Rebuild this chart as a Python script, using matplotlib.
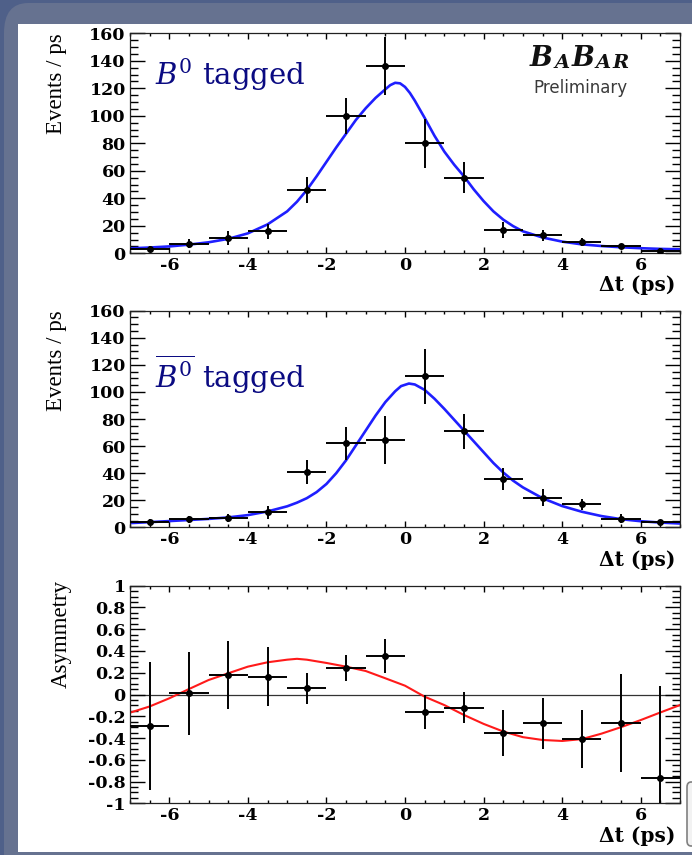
import matplotlib
matplotlib.use("Agg")
import matplotlib.pyplot as plt
from matplotlib.patches import Rectangle, FancyBboxPatch
from matplotlib.ticker import MultipleLocator, FixedLocator, FixedFormatter

plt.rcParams['axes.unicode_minus'] = False
plt.rcParams['mathtext.fontset'] = 'dejavuserif'

# ---------------- data ----------------
t_bins = [-6.5, -5.5, -4.5, -3.5, -2.5, -1.5, -0.5, 0.5, 1.5, 2.5, 3.5, 4.5, 5.5, 6.5]
bin_half_width = [0.5] * 14

b0_counts = [3, 7, 11, 16, 46, 100, 136, 80, 55, 17, 13, 8, 5, 2]
b0_err = [2, 3.5, 5, 5.5, 9.5, 13, 21, 18, 11.5, 6, 4, 3, 2, 1.5]

bbar_counts = [4, 6, 7, 11, 41, 62, 64.5, 111.5, 71, 35.5, 22, 17, 6.5, 3.7]
bbar_err = [2.5, 2.5, 3, 4.5, 9, 12, 18, 20.5, 13, 8, 6, 4, 3, 2]

asym = [-0.29, 0.01, 0.18, 0.165, 0.057, 0.24, 0.357, -0.164, -0.12, -0.354, -0.265, -0.41, -0.265, -0.765]
asym_err = [0.59, 0.385, 0.315, 0.275, 0.145, 0.12, 0.155, 0.155, 0.14, 0.21, 0.235, 0.27, 0.45, 0.84]

# fit curves
fit_b0_t = [-7, -6.5, -6, -5.5, -5, -4.5, -4, -3.5, -3, -2.75, -2.5, -2.25, -2, -1.75,
            -1.5, -1.25, -1, -0.75, -0.5, -0.375, -0.25, -0.125, 0, 0.125, 0.25, 0.5, 0.75, 1,
            1.25, 1.5, 1.75, 2, 2.25, 2.5, 2.75, 3, 3.5, 4, 4.5, 5, 5.5, 6, 6.5, 7]
fit_b0 = [3.6, 4.2, 5.0, 6.3, 8.0, 10.5, 14.5, 21, 30.5, 37.5, 46, 56, 66.5, 77,
          87, 97, 105.5, 113, 119.3, 122.3, 124.0, 123.6, 121.0, 116.6, 111, 98.5, 85.5, 74,
          64.5, 56, 46.5, 38, 30.5, 24.5, 19.8, 16, 11.5, 8.5, 6.5, 5.3, 4.4, 3.7, 3.2, 2.9]

fit_bbar_t = [-7, -6.5, -6, -5.5, -5, -4.5, -4, -3.5, -3, -2.75, -2.5, -2.25, -2, -1.75,
              -1.5, -1.25, -1, -0.75, -0.5, -0.25, -0.1, 0.1, 0.25, 0.5, 0.75, 1, 1.25,
              1.5, 1.75, 2, 2.25, 2.5, 2.75, 3, 3.5, 4, 4.5, 5, 5.5, 6, 6.5, 7]
fit_bbar = [3.1, 3.8, 4.6, 5.4, 6.2, 7.3, 9, 11.7, 15.5, 18.2, 21.5, 26, 32, 40,
            49.5, 60.5, 71.5, 82.5, 92.5, 100.5, 104.3, 106.2, 105.5, 101.5, 95, 87.5, 79.5,
            71.5, 63.5, 55.5, 47.5, 40.5, 34.5, 29.5, 21.5, 15.7, 11.5, 8.3, 6, 4.5, 3.5, 2.8]

fit_asym_t = [-7, -6.5, -6, -5.5, -5, -4.5, -4, -3.5, -3, -2.75, -2.5, -2, -1.5, -1, -0.5,
              0, 0.5, 1, 1.5, 2, 2.5, 3, 3.5, 4, 4.5, 5, 5.5, 6, 6.5, 7]
fit_asym = [-0.167, -0.11, -0.035, 0.05, 0.133, 0.195, 0.256, 0.296, 0.32, 0.328, 0.32, 0.29,
            0.256, 0.216, 0.149, 0.081, -0.02, -0.097, -0.188, -0.27, -0.34, -0.392, -0.418,
            -0.427, -0.41, -0.36, -0.30, -0.235, -0.165, -0.097]

x_major = [-6, -4, -2, 0, 2, 4, 6]
x_labels = ['-6', '-4', '-2', '0', '2', '4', '6']
cnt_major = [0, 20, 40, 60, 80, 100, 120, 140, 160]
cnt_labels = ['0', '20', '40', '60', '80', '100', '120', '140', '160']
asym_major = [-1, -0.8, -0.6, -0.4, -0.2, 0, 0.2, 0.4, 0.6, 0.8, 1]
asym_labels = ['-1', '-0.8', '-0.6', '-0.4', '-0.2', '0', '0.2', '0.4', '0.6', '0.8', '1']

# ---------------- figure ----------------
W, H = 692, 855
fig = plt.figure(figsize=(W / 100, H / 100), dpi=100)
fig.patch.set_facecolor('#4f6089')

def fr(x0, y0, x1, y1):
    return (x0 / W, 1 - y1 / H, (x1 - x0) / W, (y1 - y0) / H)

bx = fr(4, 3, 720, 900)
fig.patches.append(FancyBboxPatch((bx[0], bx[1]), bx[2], bx[3], boxstyle='round,pad=0,rounding_size=0.035',
                                  transform=fig.transFigure, facecolor='#667290', edgecolor='none', zorder=-3))
wr = fr(18, 24, 692, 852)
fig.patches.append(Rectangle((wr[0], wr[1]), wr[2], wr[3], transform=fig.transFigure,
                             facecolor='white', edgecolor='none', zorder=-2))
gr = fr(687, 782, 700, 846)
fig.patches.append(FancyBboxPatch((gr[0], gr[1]), gr[2], gr[3], boxstyle='round,pad=0,rounding_size=0.006',
                                  transform=fig.transFigure, facecolor='#f2f2f2', edgecolor='#808080',
                                  linewidth=1.2, zorder=-1))

ax1 = fig.add_axes(fr(130, 33.3, 680, 253.3))
ax2 = fig.add_axes(fr(130, 310.7, 680, 527.3))
ax3 = fig.add_axes(fr(130, 585.7, 680, 803.3))

tick_font = dict(family='DejaVu Serif', weight='bold', size=12.5)
ylab_font = dict(family='Liberation Serif', size=16.5)
xlab_font = dict(family='DejaVu Serif', weight='bold', size=14.5)

def style_axis(ax, ymaj, ylabs, yminor, ylim):
    ax.set_xlim(-7, 7)
    ax.set_ylim(*ylim)
    ax.xaxis.set_major_locator(FixedLocator(x_major))
    ax.xaxis.set_major_formatter(FixedFormatter(x_labels))
    ax.xaxis.set_minor_locator(MultipleLocator(0.5))
    ax.yaxis.set_major_locator(FixedLocator(ymaj))
    ax.yaxis.set_major_formatter(FixedFormatter(ylabs))
    ax.yaxis.set_minor_locator(MultipleLocator(yminor))
    ax.tick_params(axis='both', which='both', direction='in', top=True, right=True,
                   width=1.0, colors='black')
    ax.tick_params(axis='x', which='major', length=4.5, pad=2.5)
    ax.tick_params(axis='x', which='minor', length=2.5)
    ax.tick_params(axis='y', which='major', length=11, pad=3)
    ax.tick_params(axis='y', which='minor', length=5.5)
    for lab in ax.get_xticklabels() + ax.get_yticklabels():
        lab.set_fontfamily(tick_font['family'])
        lab.set_fontweight(tick_font['weight'])
        lab.set_fontsize(tick_font['size'])
    for sp in ax.spines.values():
        sp.set_linewidth(0.9)
        sp.set_color('#222222')
    ax.set_facecolor('white')

err_kw = dict(fmt='o', ms=4.0, color='black', ecolor='black', elinewidth=1.4, capsize=0, zorder=3)

# panel 1
ax1.plot(fit_b0_t, fit_b0, color='#1f1fff', lw=1.9, zorder=2)
ax1.errorbar(t_bins, b0_counts, yerr=b0_err, xerr=bin_half_width, **err_kw)
style_axis(ax1, cnt_major, cnt_labels, 5, (0, 160))
ax1.text(0.045, 0.765, r'$B^0$ tagged', transform=ax1.transAxes, fontsize=21,
         color='#0b0b82', family='DejaVu Serif', va='baseline', ha='left')

# panel 2
ax2.plot(fit_bbar_t, fit_bbar, color='#1f1fff', lw=1.9, zorder=2)
ax2.errorbar(t_bins, bbar_counts, yerr=bbar_err, xerr=bin_half_width, **err_kw)
style_axis(ax2, cnt_major, cnt_labels, 5, (0, 160))
ax2.text(0.045, 0.643, r'$\overline{B^0}$ tagged', transform=ax2.transAxes, fontsize=21,
         color='#0b0b82', family='DejaVu Serif', va='baseline', ha='left')

# panel 3
ax3.axhline(0, color='#333333', lw=0.9, zorder=1)
ax3.plot(fit_asym_t, fit_asym, color='#ff1a1a', lw=1.5, zorder=2)
ax3.errorbar(t_bins, asym, yerr=asym_err, xerr=bin_half_width, **err_kw)
style_axis(ax3, asym_major, asym_labels, 0.05, (-1, 1))

# y labels
for ax, txt, xc, yc in [(ax1, 'Events / ps', -0.1145, 1.0),
                        (ax2, 'Events / ps', -0.1145, 1.0),
                        (ax3, 'Asymmetry', -0.105, 1.026)]:
    ax.set_ylabel(txt, loc='top', **ylab_font)
    ax.yaxis.set_label_coords(xc, yc)

# x labels
for ax, yc in [(ax1, -0.145), (ax2, -0.153), (ax3, -0.152)]:
    ax.text(0.991, yc, '\u0394t (ps)', transform=ax.transAxes, ha='right', va='center', **xlab_font)

# BaBar logo
logo_font = dict(family='DejaVu Serif', style='italic', weight='bold', color='#111111')
prev = ax1.text(0.727, 0.825, 'B', transform=ax1.transAxes, fontsize=19.5, va='bottom', ha='left', **logo_font)
for s, fs in [('A', 14), ('B', 19.5), ('A', 14), ('R', 14)]:
    prev = ax1.annotate(s, xy=(1, 0), xycoords=prev, xytext=(1.2, 0), textcoords='offset points',
                        fontsize=fs, va='bottom', ha='left', **logo_font)
ax1.text(0.733, 0.729, 'Preliminary', transform=ax1.transAxes, fontsize=12,
         family='DejaVu Sans', color='#3a3a3a', va='baseline', ha='left')

fig.savefig('out.png', dpi=100, facecolor=fig.get_facecolor())
